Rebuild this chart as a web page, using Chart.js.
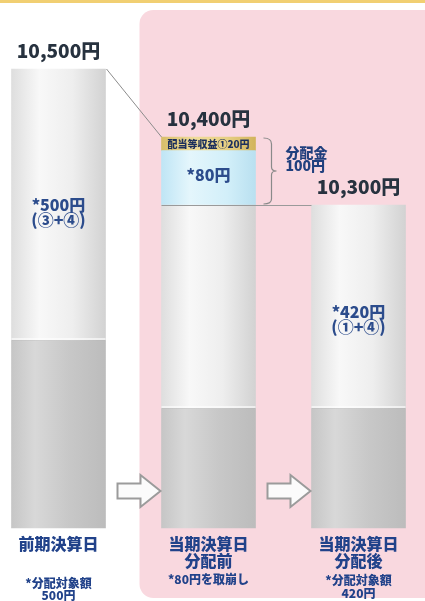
<!DOCTYPE html>
<html><head><meta charset="utf-8">
<script src="https://cdn.jsdelivr.net/npm/chart.js@4"></script>
<style>html,body{margin:0;padding:0;background:#fff;}#wrap{width:425px;height:601px;}</style>
</head><body><div id="wrap"><canvas id="c" width="425" height="601"></canvas></div>
<script>
const categories = ['前期決算日', '当期決算日 分配前', '当期決算日 分配後'];
const totalValues = [10500, 10400, 10300];
const baseValues = [10100, 10000, 10000];
const reserveAmounts = [0, 80, 0];
const incomeAmounts = [0, 20, 0];
const totalLabels = ['10,500円', '10,400円', '10,300円'];
const innerLabels = [['*500円', '(③+④)'], ['*80円'], ['*420円', '(①+④)']];
const bottomLabels = [['前期決算日'], ['当期決算日', '分配前'], ['当期決算日', '分配後']];
const noteLabels = [['*分配対象額', '500円'], ['*80円を取崩し'], ['*分配対象額', '420円']];
const incomeLabel = '配当等収益①20円';
const distributionLabel = ['分配金', '100円'];
const yMin = 9825, yMax = 10600;

const whiteTop = totalValues.map((t, i) => t - reserveAmounts[i] - incomeAmounts[i]);
const FONT = "'Noto Sans CJK JP', 'Noto Sans', sans-serif";
const HALF = 47;

function grad(stops) {
  return (ctx) => {
    const chart = ctx.chart;
    if (!chart.chartArea) return stops[0][1];
    const x = chart.scales.x.getPixelForValue(ctx.dataIndex);
    const g = chart.ctx.createLinearGradient(x - HALF, 0, x + HALF, 0);
    stops.forEach(s => g.addColorStop(s[0], s[1]));
    return g;
  };
}

const datasets = [
  { label: 'base', data: baseValues.map(v => [yMin, v]),
    backgroundColor: grad([[0, '#c6c6c6'], [0.25, '#d8d8d8'], [0.6, '#c8c8c8'], [1, '#bcbcbc']]) },
  { label: 'distributable', data: baseValues.map((v, i) => [v, whiteTop[i]]),
    backgroundColor: grad([[0, '#dedede'], [0.3, '#f8f8f8'], [0.65, '#eeeeee'], [1, '#d2d2d2']]) },
  { label: 'reserve', data: reserveAmounts.map((a, i) => a ? [whiteTop[i], whiteTop[i] + a] : null),
    backgroundColor: grad([[0, '#bfe5f5'], [0.3, '#e4f6fc'], [0.7, '#d2eff9'], [1, '#b9e0f0']]) },
  { label: 'income', data: incomeAmounts.map((a, i) => a ? [whiteTop[i] + reserveAmounts[i], totalValues[i]] : null),
    backgroundColor: grad([[0, '#d8be6a'], [0.35, '#efdc9a'], [0.7, '#e6cf82'], [1, '#d2b45c']]) }
].map(d => Object.assign(d, { barThickness: 94, borderWidth: 0, clip: false, grouped: false }));

const drawPlugin = {
  id: 'diagram',
  beforeDraw(chart) {
    const c = chart.ctx;
    c.save();
    c.fillStyle = '#ffffff';
    c.fillRect(0, 0, chart.width, chart.height);
    c.strokeStyle = '#f1cf72';
    c.lineWidth = 3;
    c.beginPath(); c.moveTo(0, 1.5); c.lineTo(chart.width, 1.5); c.stroke();
    const xs = chart.scales.x;
    const px = xs.getPixelForValue(1) - HALF - 22;
    c.fillStyle = '#f9d8df';
    c.beginPath();
    c.roundRect(px, 10, chart.width - px + 20, 588, 14);
    c.fill();
    c.restore();
  },
  afterDatasetsDraw(chart) {
    const c = chart.ctx, xs = chart.scales.x, ys = chart.scales.y;
    const cx = i => xs.getPixelForValue(i);
    const bottom = ys.getPixelForValue(yMin);
    c.save();
    // soft highlight at white/gray boundary
    baseValues.forEach((v, i) => {
      const y = ys.getPixelForValue(v);
      c.fillStyle = 'rgba(255,255,255,0.6)';
      c.fillRect(cx(i) - HALF, y - 3, HALF * 2, 2);
      c.fillStyle = 'rgba(150,150,150,0.35)';
      c.fillRect(cx(i) - HALF, y - 1, HALF * 2, 1);
    });
    c.strokeStyle = '#8c8c8c'; c.lineWidth = 1;
    c.beginPath();
    c.moveTo(cx(0) + HALF + 1, ys.getPixelForValue(totalValues[0]));
    c.lineTo(cx(1) - HALF, ys.getPixelForValue(totalValues[1]));
    c.stroke();
    const yb = ys.getPixelForValue(totalValues[2]);
    c.strokeStyle = '#9a9a9a';
    c.beginPath(); c.moveTo(cx(1) - HALF, yb + 0.5); c.lineTo(cx(2) - HALF, yb + 0.5); c.stroke();
    const yt = ys.getPixelForValue(totalValues[1]);
    const bx = cx(1) + HALF + 16;
    const ym = (yt + yb) / 2;
    c.strokeStyle = '#8a8a8a'; c.lineWidth = 1.2;
    c.beginPath();
    c.moveTo(bx - 8, yt + 1);
    c.quadraticCurveTo(bx, yt + 1, bx, yt + 7);
    c.lineTo(bx, ym - 4);
    c.quadraticCurveTo(bx, ym, bx + 5, ym);
    c.quadraticCurveTo(bx, ym, bx, ym + 4);
    c.lineTo(bx, yb - 6);
    c.quadraticCurveTo(bx, yb - 1, bx - 8, yb - 1);
    c.stroke();
    [0, 1].forEach(i => {
      const tip = cx(i + 1) - HALF - 1;
      const st = tip - 43, sh = tip - 20, yc = bottom - 37;
      c.beginPath();
      c.moveTo(st, yc - 7.5); c.lineTo(sh, yc - 7.5); c.lineTo(sh, yc - 16);
      c.lineTo(tip, yc); c.lineTo(sh, yc + 16); c.lineTo(sh, yc + 7.5); c.lineTo(st, yc + 7.5);
      c.closePath();
      c.fillStyle = '#fbfbfb'; c.fill();
      c.strokeStyle = '#9b9b9b'; c.lineWidth = 2; c.lineJoin = 'miter'; c.stroke();
    });
    c.textAlign = 'center';
    c.textBaseline = 'alphabetic';
    c.fillStyle = '#27323f';
    c.font = `900 19px ${FONT}`;
    totalValues.forEach((v, i) => c.fillText(totalLabels[i], cx(i), ys.getPixelForValue(v) - 11));
    c.fillStyle = '#2c4c8c';
    c.font = `900 16px ${FONT}`;
    const innerY = [[211, 226], [181], [318, 333]];
    innerLabels.forEach((lines, i) => lines.forEach((t, k) => c.fillText(t, cx(i), innerY[i][k])));
    c.font = `900 10px ${FONT}`;
    c.fillStyle = '#1c2f5c';
    const yIncome = (ys.getPixelForValue(totalValues[1]) + ys.getPixelForValue(whiteTop[1] + reserveAmounts[1])) / 2;
    c.textBaseline = 'middle';
    c.fillText(incomeLabel, cx(1), yIncome + 0.5);
    c.textAlign = 'left';
    c.fillStyle = '#21407e';
    c.font = `900 14px ${FONT}`;
    c.textBaseline = 'alphabetic';
    c.fillText(distributionLabel[0], bx + 14, yt + 21);
    c.fillText(distributionLabel[1], bx + 14, yt + 34);
    c.textAlign = 'center';
    c.textBaseline = 'middle';
    c.fillStyle = '#21428a';
    c.font = `900 16px ${FONT}`;
    bottomLabels.forEach((lines, i) => lines.forEach((t, k) => c.fillText(t, cx(i), bottom + 16 + k * 17)));
    c.font = `900 12px ${FONT}`;
    const noteY = [[583, 595], [579], [580, 593]];
    noteLabels.forEach((lines, i) => lines.forEach((t, k) => c.fillText(t, cx(i), noteY[i][k])));
    c.restore();
  }
};

new Chart(document.getElementById('c'), {
  type: 'bar',
  data: { labels: categories, datasets },
  options: {
    responsive: false,
    animation: false,
    devicePixelRatio: 1,
    layout: { padding: { left: 58.5, right: 66.5, top: 1, bottom: 73 } },
    plugins: { legend: { display: false }, tooltip: { enabled: false } },
    scales: {
      x: { type: 'category', offset: false, display: false, grid: { display: false } },
      y: { display: false, min: yMin, max: yMax }
    }
  },
  plugins: [drawPlugin]
});
</script>
</body></html>
